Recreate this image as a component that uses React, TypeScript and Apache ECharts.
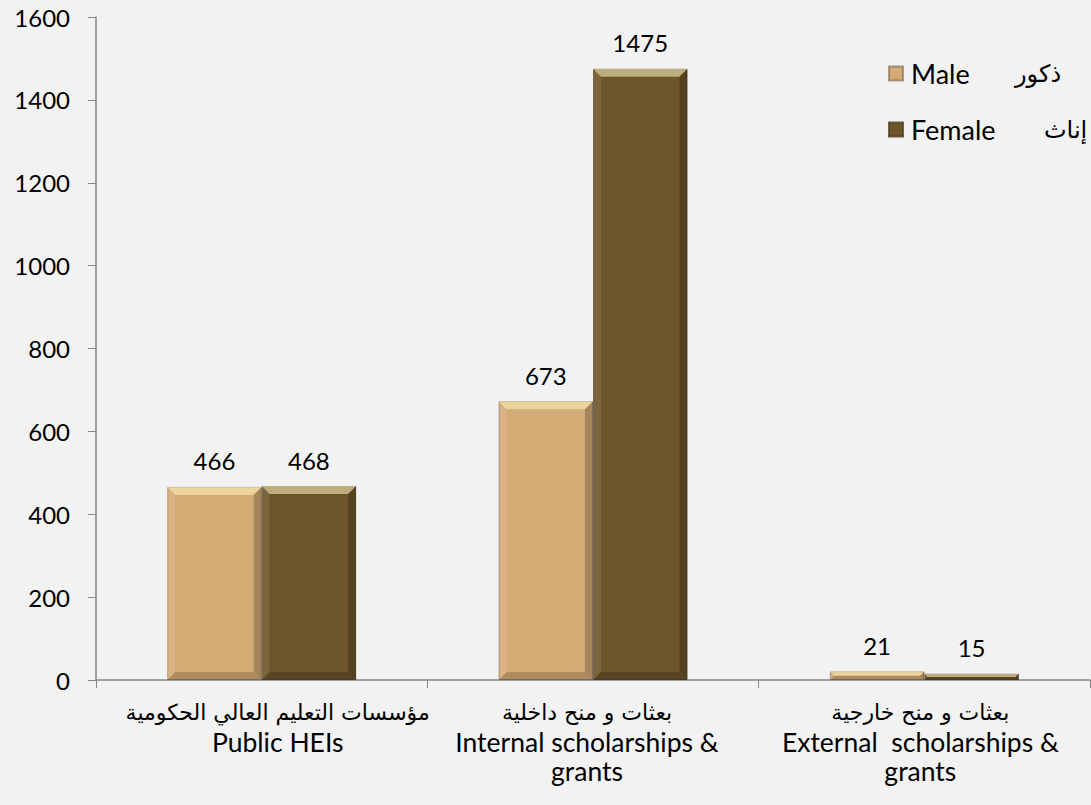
import React, { useEffect, useRef } from "react";
import * as echarts from "echarts";

const categories = [
  "مؤسسات التعليم العالي الحكومية\nPublic HEIs",
  "بعثات و منح داخلية\nInternal scholarships &\ngrants",
  "بعثات و منح خارجية\nExternal  scholarships &\ngrants",
];
const maleValues = [466, 673, 21];
const femaleValues = [468, 1475, 15];
const seriesNames = ["Male", "Female"];
const arabicLegend = ["ذكور", "إناث"];
const yTicks = { min: 0, max: 1600, interval: 200 };

const MALE = "#d5ab75";
const FEMALE = "#6d5429";
const CAT_GAP = 0.43;
const FONT = "Lato, 'Open Sans', 'DejaVu Sans', sans-serif";
const AR_FONT = "'DejaVu Sans', sans-serif";
// horizontal nudge of each category label (px, left padding / right padding)
const labelPad = [[0, 0, 0, 32], [0, 12, 0, 0], [0, 8, 0, 0]];

function bevelSeries(values: number[], side: number) {
  return {
    type: "custom",
    silent: true,
    z: 3,
    data: values.map((v, i) => [i, v]),
    encode: { x: 0, y: 1 },
    renderItem: (params: any, api: any) => {
      const idx = api.value(0);
      const val = api.value(1);
      const top = api.coord([idx, val]);
      const base = api.coord([idx, 0]);
      const catW = api.size([1, 0])[0];
      const bw = ((1 - CAT_GAP) / 2) * catW;
      const x0 = side < 0 ? top[0] - bw : top[0];
      const x1 = x0 + bw;
      const y0 = top[1];
      const y1 = base[1];
      const h = y1 - y0;
      const t = Math.min(8, h / 2, bw / 2);
      return {
        type: "group",
        children: [
          {
            type: "polygon",
            shape: { points: [[x0, y0], [x1, y0], [x1 - t, y0 + t], [x0 + t, y0 + t]] },
            style: { fill: "rgba(255,245,190,0.55)" },
          },
          {
            type: "polygon",
            shape: { points: [[x0, y1], [x1, y1], [x1 - t, y1 - t], [x0 + t, y1 - t]] },
            style: { fill: "rgba(0,0,0,0.18)" },
          },
          {
            type: "polygon",
            shape: { points: [[x0, y0], [x0 + t, y0 + t], [x0 + t, y1 - t], [x0, y1]] },
            style: { fill: "rgba(255,255,255,0.10)" },
          },
          {
            type: "polygon",
            shape: { points: [[x1, y0], [x1 - t, y0 + t], [x1 - t, y1 - t], [x1, y1]] },
            style: { fill: "rgba(0,0,0,0.22)" },
          },
        ],
      };
    },
  };
}

export default function App() {
  const ref = useRef<HTMLDivElement>(null);
  useEffect(() => {
    if (!ref.current) return;
    const chart = echarts.init(ref.current, null, { renderer: "svg" });
    const labelStyle = {
      show: true,
      position: "top",
      distance: 14,
      color: "#000",
      fontSize: 24,
      fontFamily: FONT,
    };
    const rich: any = {};
    labelPad.forEach((p, i) => {
      rich["ar" + i] = { fontSize: 22, fontFamily: AR_FONT, color: "#000", lineHeight: 29, padding: p };
      rich["en" + i] = { fontSize: 26.5, fontFamily: FONT, color: "#000", lineHeight: 29, padding: p };
    });
    chart.setOption({
      animation: false,
      backgroundColor: "#f2f2f2",
      textStyle: { fontFamily: FONT },
      grid: { left: 96, right: 1, top: 17, bottom: 125, containLabel: false },
      legend: {
        data: seriesNames,
        orient: "vertical",
        left: 888,
        top: 60,
        padding: 0,
        itemGap: 29,
        itemWidth: 14,
        itemHeight: 14,
        icon: "rect",
        textStyle: {
          fontFamily: FONT,
          fontSize: 27,
          color: "#000",
          padding: [0, 0, 0, 3],
          rich: {
            enM: { width: 104, fontSize: 27, fontFamily: FONT, color: "#000" },
            enF: { width: 133, fontSize: 27, fontFamily: FONT, color: "#000" },
            ar: { fontSize: 24, fontFamily: AR_FONT, color: "#000" },
          },
        },
        formatter: (name: string) => {
          const i = seriesNames.indexOf(name);
          return `{${i === 0 ? "enM" : "enF"}|${name}}{ar|${arabicLegend[i]}}`;
        },
      },
      xAxis: {
        type: "category",
        data: categories,
        axisLine: { show: true, lineStyle: { color: "#868686", width: 1.5 } },
        axisTick: { show: true, length: 8, lineStyle: { color: "#868686" } },
        axisLabel: {
          color: "#000",
          fontSize: 26,
          fontFamily: FONT,
          lineHeight: 29,
          margin: 18,
          interval: 0,
          formatter: (v: string, idx: number) => {
            const lines = v.split("\n");
            return [`{ar${idx}|${lines[0]}}`, ...lines.slice(1).map((l) => `{en${idx}|${l}}`)].join("\n");
          },
          rich,
        },
      },
      yAxis: {
        type: "value",
        min: yTicks.min,
        max: yTicks.max,
        interval: yTicks.interval,
        splitLine: { show: false },
        axisLine: { show: true, lineStyle: { color: "#868686", width: 1.5 } },
        axisTick: { show: true, length: 8, lineStyle: { color: "#868686" } },
        axisLabel: {
          color: "#000",
          fontSize: 24,
          fontFamily: FONT,
          margin: 26,
          formatter: (v: number) => String(v),
        },
      },
      series: [
        {
          name: seriesNames[0],
          type: "bar",
          data: maleValues,
          barGap: "0%",
          barCategoryGap: CAT_GAP * 100 + "%",
          itemStyle: { color: MALE, borderColor: "rgba(120,100,70,0.6)", borderWidth: 1 },
          label: labelStyle,
        },
        {
          name: seriesNames[1],
          type: "bar",
          data: femaleValues,
          barGap: "0%",
          barCategoryGap: CAT_GAP * 100 + "%",
          itemStyle: { color: FEMALE, borderColor: "rgba(80,60,30,0.8)", borderWidth: 1 },
          label: labelStyle,
        },
        bevelSeries(maleValues, -1),
        bevelSeries(femaleValues, 1),
      ],
    });
    return () => chart.dispose();
  }, []);
  return (
    <div
      ref={ref}
      style={{ position: "fixed", left: 0, top: 0, width: 1091, height: 805, background: "#f2f2f2" }}
    />
  );
}
